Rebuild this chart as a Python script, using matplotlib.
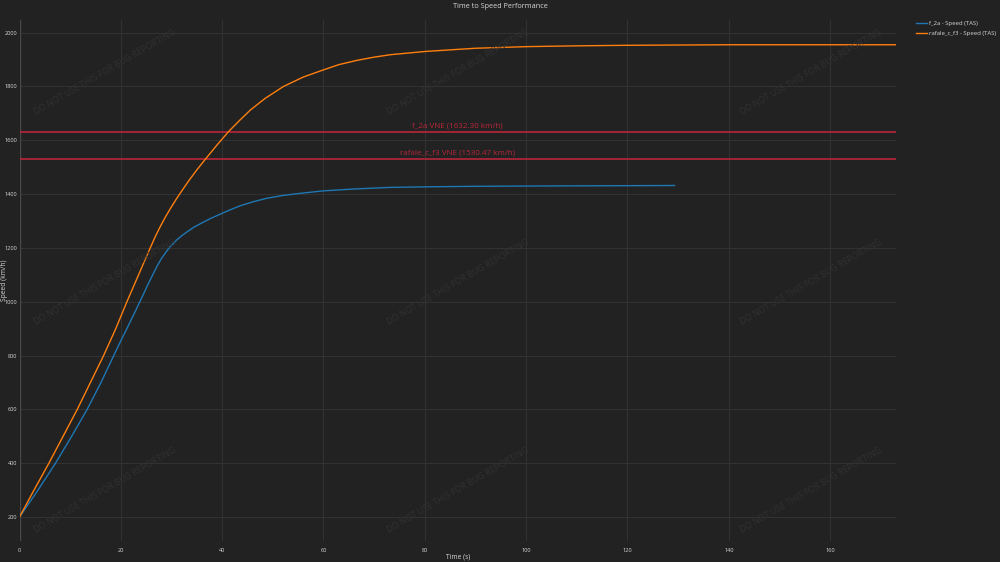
import matplotlib
matplotlib.use("Agg")
import matplotlib.pyplot as plt

# ---- data ----
f2a_time = [0, 3.5, 7.1, 10.2, 13.35, 16.0, 18.6, 20, 21.5, 23, 24.5, 25.5, 26.5, 27.2, 28, 29,
            29.8, 31, 32, 33.1, 34.5, 36.4, 38, 39.8, 41.5, 43.6, 46, 48.9, 52, 55, 59.9, 66,
            73.2, 80, 90, 100, 115, 129.3]
f2a_speed = [200, 296, 400, 497, 600, 697, 800, 855, 912, 970, 1030, 1070, 1108, 1134, 1160, 1187,
             1206, 1229, 1245, 1260, 1278, 1297, 1312, 1327, 1341, 1357, 1371, 1385, 1395, 1402, 1412, 1419,
             1425, 1427, 1429, 1430, 1431, 1432]

rafale_time = [0, 2.8, 5.8, 8.6, 11.4, 14.0, 16.6, 19, 21.2, 23.5, 25.8, 26.8, 27.8, 28.8, 29.8,
               31, 32.1, 33.5, 35, 36.7, 39, 41.3, 43.5, 45.6, 48.5, 52.1, 56, 59.9, 63, 66.6, 70,
               73.2, 80, 90, 100, 110, 120, 140, 160, 173]
rafale_speed = [200, 298, 400, 500, 600, 700, 800, 900, 1000, 1100, 1200, 1242, 1280, 1315, 1347,
                1383, 1414, 1452, 1490, 1530, 1583, 1633, 1675, 1713, 1756, 1800, 1835, 1861, 1881, 1897, 1909,
                1918, 1930, 1942, 1948, 1951, 1953, 1955, 1955, 1955]

series_names = ["f_2a - Speed (TAS)", "rafale_c_f3 - Speed (TAS)"]
vne_values = [1632.30, 1530.47]
vne_labels = ["f_2a VNE (1632.30 km/h)", "rafale_c_f3 VNE (1530.47 km/h)"]
x_ticks = [0, 20, 40, 60, 80, 100, 120, 140, 160]
y_ticks = [200, 400, 600, 800, 1000, 1200, 1400, 1600, 1800, 2000]

# ---- style ----
BG = "#222222"
GRID = "#333333"
TXT = "#d8d8d8"
VNE_C = "#b8263a"
FONT = ["Open Sans", "DejaVu Sans"]
plt.rcParams["font.family"] = FONT

W, H = 1000, 562
fig = plt.figure(figsize=(W / 100, H / 100), dpi=100, facecolor=BG)
L, R, T, B = 19.5, 896, 20, 541
ax = fig.add_axes([L / W, 1 - B / H, (R - L) / W, (B - T) / H], facecolor=BG)

xmin, xmax = 0, 173
ymin, ymax = 111, 2047
ax.set_xlim(xmin, xmax)
ax.set_ylim(ymin, ymax)

for s in ax.spines.values():
    s.set_visible(False)
ax.set_xticks(x_ticks)
ax.set_yticks(y_ticks)
ax.grid(True, color=GRID, lw=0.7)
ax.set_axisbelow(True)
ax.tick_params(axis="both", length=0, colors=TXT, labelsize=4.1)
ax.tick_params(axis="x", pad=5)
ax.tick_params(axis="y", pad=1.5)
ax.axvline(0, color="#484848", lw=1.0, zorder=1)

# watermarks
wm_x = [105, 458, 811]
wm_y = [72, 282, 490]
for wy in wm_y:
    for wx in wm_x:
        fig.text(wx / W, 1 - wy / H, "DO NOT USE THIS FOR BUG REPORTING", rotation=30,
                 ha="center", va="center", rotation_mode="anchor", fontsize=6.3,
                 color="#313131", zorder=0)

# VNE lines
for v, lab in zip(vne_values, vne_labels):
    ax.axhline(v, color=VNE_C, lw=1.2, zorder=2)
    ax.text((xmin + xmax) / 2, v + 8, lab, ha="center", va="bottom", color=VNE_C, fontsize=5.8, zorder=3)

ax.plot(f2a_time, f2a_speed, color="#1f77b4", lw=1.0, label=series_names[0], zorder=4)
ax.plot(rafale_time, rafale_speed, color="#ff7f0e", lw=1.0, label=series_names[1], zorder=4)

fig.text(458 / W, 1 - 556.5 / H, "Time (s)", ha="center", va="center", color=TXT, fontsize=4.8)
fig.text(4.5 / W, 1 - 280 / H, "Speed (km/h)", ha="center", va="center", rotation=90,
         color=TXT, fontsize=4.8)

fig.text(0.5, 1 - 7 / H, "Time to Speed Performance", ha="center", va="center", color=TXT, fontsize=5.2)

leg = fig.legend(loc="upper left", bbox_to_anchor=(915.5 / W, 1 - 21 / H), frameon=False,
                 fontsize=4.3, labelcolor=TXT, handlelength=1.9, handletextpad=0.3,
                 labelspacing=0.75, borderpad=0, borderaxespad=0)

fig.savefig("out.png", dpi=100, facecolor=BG)
